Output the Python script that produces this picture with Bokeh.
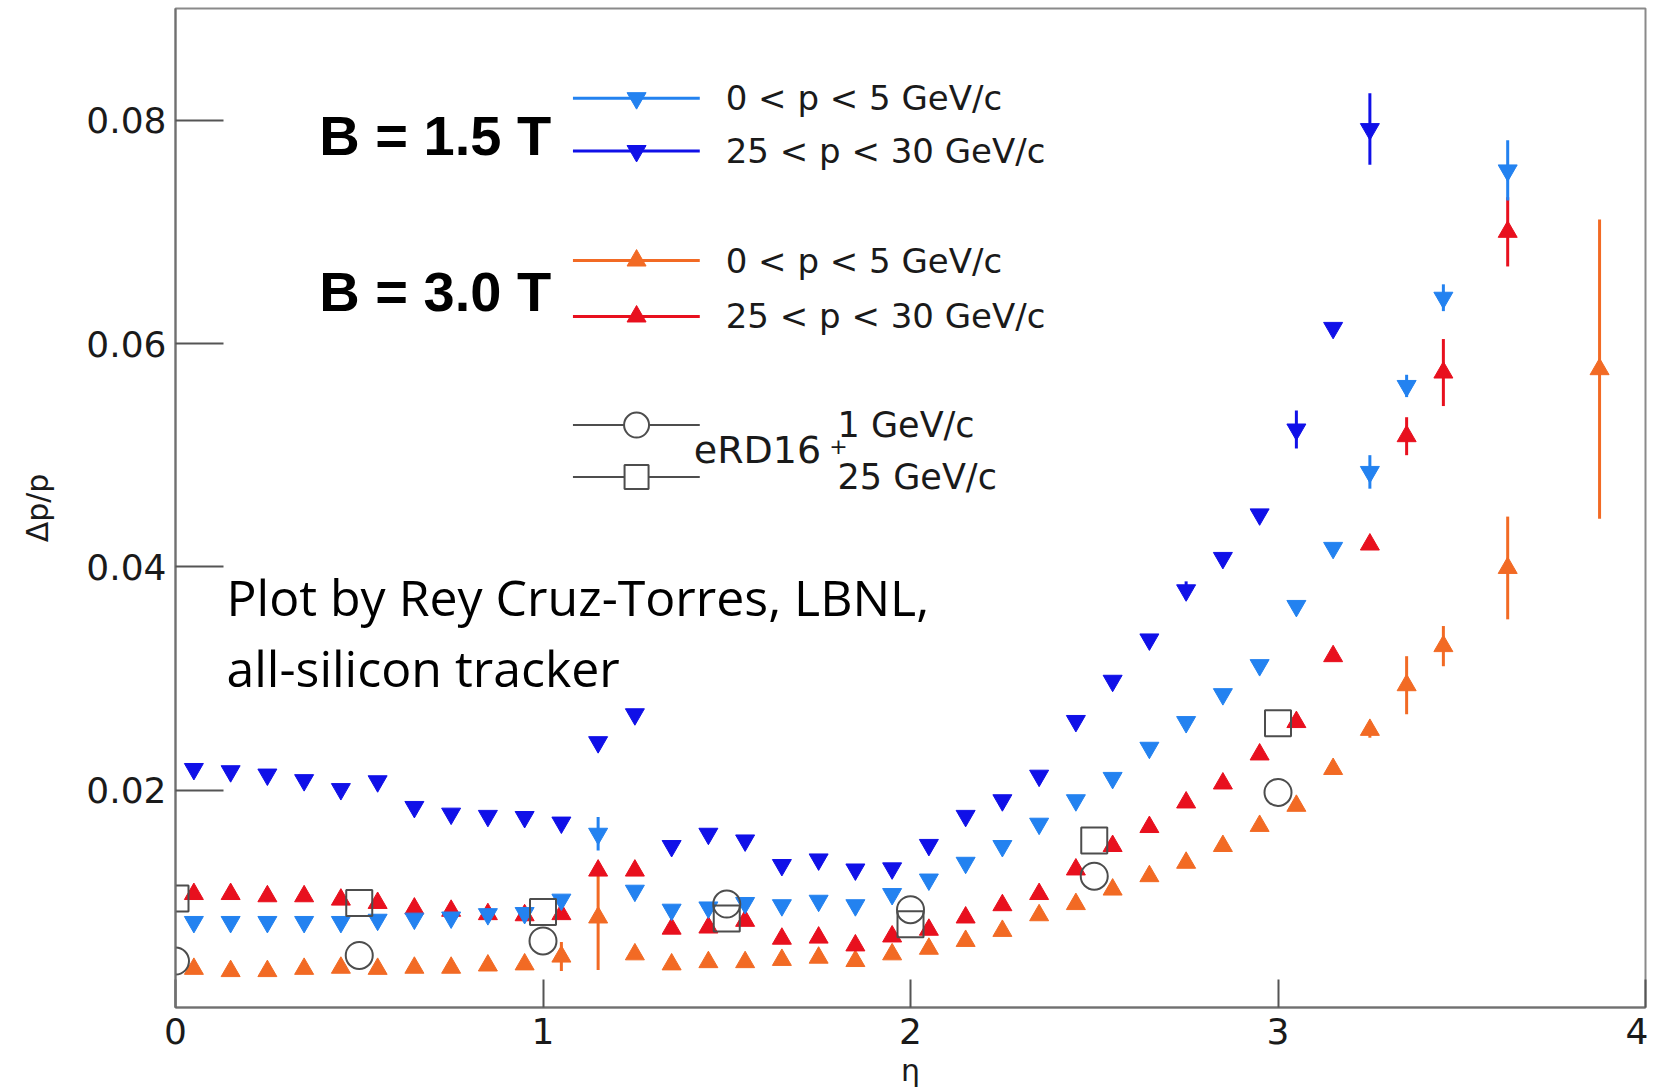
from bokeh.plotting import figure
from bokeh.models import Range1d, FixedTicker
from bokeh.core.properties import value
from bokeh.embed import file_html
from bokeh.resources import INLINE

# ---------------- data ----------------
eta = [0.05, 0.15, 0.25, 0.35, 0.45, 0.55, 0.65, 0.75, 0.85, 0.95,
       1.05, 1.15, 1.25, 1.35, 1.45, 1.55, 1.65, 1.75, 1.85, 1.95,
       2.05, 2.15, 2.25, 2.35, 2.45, 2.55, 2.65, 2.75, 2.85, 2.95,
       3.05, 3.15, 3.25, 3.35, 3.45, 3.625, 3.875]

# B = 1.5 T, 25 < p < 30 GeV/c (dark blue)
b15_hi = [0.0219, 0.0217, 0.0214, 0.0209, 0.0201, 0.0208, 0.0185, 0.0179, 0.0177, 0.0176,
          0.0171, 0.0243, 0.0268, 0.0150, 0.0161, 0.0155, 0.0133, 0.0138, 0.0129, 0.0130,
          0.0151, 0.0177, 0.0191, 0.0213, 0.0262, 0.0298, 0.0335, 0.0379, 0.0408, 0.0447,
          0.0523, 0.0614, 0.0792]
b15_hi_err = [0, 0, 0, 0, 0, 0, 0, 0, 0, 0,
              0, 0, 0, 0, 0, 0, 0, 0, 0, 0,
              0, 0, 0, 0, 0, 0, 0, 0.0008, 0, 0,
              0.0017, 0, 0.0032]

# B = 1.5 T, 0 < p < 5 GeV/c (light blue)
b15_lo = [0.0082, 0.0082, 0.0082, 0.0082, 0.0082, 0.0084, 0.0085, 0.0086, 0.0089, 0.0090,
          0.0102, 0.0161, 0.0110, 0.0093, 0.0095, 0.0099, 0.0097, 0.0101, 0.0097, 0.0107,
          0.0120, 0.0135, 0.0150, 0.0170, 0.0191, 0.0211, 0.0238, 0.0261, 0.0286, 0.0312,
          0.0365, 0.0417, 0.0485, 0.0562, 0.0641, 0.0755]
b15_lo_err = [0, 0, 0, 0, 0, 0, 0, 0, 0, 0,
              0, 0.0015, 0, 0, 0, 0, 0, 0, 0, 0,
              0, 0, 0, 0, 0, 0, 0, 0, 0, 0,
              0, 0, 0.0015, 0.0010, 0.0012, 0.0027]

# B = 3.0 T, 25 < p < 30 GeV/c (red)
b30_hi = [0.0107, 0.0107, 0.0105, 0.0105, 0.0102, 0.0099, 0.0094, 0.0092, 0.0089, 0.0088,
          0.0089, 0.0128, 0.0128, 0.0076, 0.0077, 0.0083, 0.0067, 0.0068, 0.0061, 0.0069,
          0.0075, 0.0086, 0.0097, 0.0107, 0.0129, 0.0150, 0.0167, 0.0189, 0.0206, 0.0232,
          0.0261, 0.0320, 0.0420, 0.0517, 0.0574, 0.0700]
b30_hi_err = [0, 0, 0, 0, 0, 0, 0, 0, 0, 0,
              0, 0, 0, 0, 0, 0, 0, 0, 0, 0,
              0, 0, 0, 0, 0, 0, 0, 0, 0, 0,
              0.0005, 0, 0.0004, 0.0017, 0.0030, 0.0031]

# B = 3.0 T, 0 < p < 5 GeV/c (orange)
b30_lo = [0.0040, 0.0038, 0.0038, 0.0040, 0.0041, 0.0040, 0.0041, 0.0041, 0.0043, 0.0044,
          0.0051, 0.0086, 0.0053, 0.0044, 0.0046, 0.0046, 0.0048, 0.0050, 0.0047, 0.0053,
          0.0058, 0.0065, 0.0074, 0.0088, 0.0098, 0.0111, 0.0123, 0.0135, 0.0150, 0.0168,
          0.0186, 0.0219, 0.0254, 0.0294, 0.0329, 0.0399, 0.0577]
b30_lo_err = [0, 0, 0, 0, 0, 0, 0, 0, 0, 0,
              0.0013, 0.0047, 0, 0, 0, 0, 0, 0, 0, 0,
              0, 0, 0, 0, 0, 0, 0, 0, 0, 0,
              0, 0.0004, 0.0007, 0.0026, 0.0018, 0.0046, 0.0134]

# eRD16+ reference points
erd_eta = [0.0, 0.5, 1.0, 1.5, 2.0, 2.5, 3.0]
erd_1gev = [0.0047, 0.0052, 0.0065, 0.0098, 0.0093, 0.0123, 0.0198]
erd_25gev = [0.0103, 0.0099, 0.0091, 0.0085, 0.0080, 0.0155, 0.0260]

x_ticks = [0, 1, 2, 3, 4]
x_tick_labels = ["0", "1", "2", "3", "4"]
y_ticks = [0.02, 0.04, 0.06, 0.08]
y_tick_labels = ["0.02", "0.04", "0.06", "0.08"]

x_title = "η"
y_title = "Δp/p"
legend_labels = ["0 < p < 5 GeV/c", "25 < p < 30 GeV/c",
                 "0 < p < 5 GeV/c", "25 < p < 30 GeV/c"]
field_labels = ["B = 1.5 T", "B = 3.0 T"]
note_lines = ["Plot by Rey Cruz-Torres, LBNL,", "all-silicon tracker"]

# ---------------- styles ----------------
C_DARK = "#1010e8"
C_LIGHT = "#2382f0"
C_RED = "#e8101e"
C_ORANGE = "#f26a24"
C_GRAY = "#4d4d4d"
TRI = 19
OPEN = 27
LBL_FONT = "DejaVu Sans"

p = figure(frame_width=1470, frame_height=999,
           x_range=Range1d(0, 4), y_range=Range1d(0.00054, 0.0900),
           output_backend="svg", toolbar_location=None,
           min_border_left=175, min_border_right=3, min_border_top=8, min_border_bottom=40,
           background_fill_color="white", border_fill_color="white")
p.xgrid.visible = False
p.ygrid.visible = False
p.outline_line_color = "#8a8a8a"
p.outline_line_width = 2

for ax in (p.xaxis[0], p.yaxis[0]):
    ax.axis_line_color = "#707070"
    ax.axis_line_width = 2
    ax.major_tick_out = 0
    ax.minor_tick_in = 0
    ax.minor_tick_out = 0
    ax.major_tick_line_color = "#555555"
    ax.major_tick_line_width = 2
    ax.major_label_text_font = LBL_FONT
    ax.major_label_text_font_size = "36px"
    ax.major_label_text_color = "#1a1a1a"
    ax.axis_label_text_font = LBL_FONT
    ax.axis_label_text_font_style = "normal"
    ax.axis_label_text_color = "#1a1a1a"

p.xaxis.ticker = FixedTicker(ticks=x_ticks)
p.xaxis.major_label_overrides = {t: l for t, l in zip(x_ticks, x_tick_labels)}
p.xaxis.major_tick_in = 28
p.xaxis.major_label_standoff = 10
p.xaxis.axis_label = x_title
p.xaxis.axis_label_text_font_size = "30px"
p.xaxis.axis_label_standoff = 6

p.yaxis.ticker = FixedTicker(ticks=y_ticks)
p.yaxis.major_label_overrides = {t: l for t, l in zip(y_ticks, y_tick_labels)}
p.yaxis.major_tick_in = 48
p.yaxis.major_label_standoff = 9
p.yaxis.axis_label = y_title
p.yaxis.axis_label_text_font_size = "30px"
p.yaxis.axis_label_standoff = 28


def draw_series(vals, errs, color, marker):
    xs = eta[:len(vals)]
    ex = [x for x, e in zip(xs, errs) if e > 0]
    ey0 = [v - e for v, e in zip(vals, errs) if e > 0]
    ey1 = [v + e for v, e in zip(vals, errs) if e > 0]
    if ex:
        p.segment(x0=ex, x1=ex, y0=ey0, y1=ey1, line_color=color, line_width=3)
    p.scatter(x=xs, y=vals, marker=marker, size=TRI, fill_color=color,
              line_color=color, line_width=1)


draw_series(b30_lo, b30_lo_err, C_ORANGE, "triangle")
draw_series(b30_hi, b30_hi_err, C_RED, "triangle")
draw_series(b15_lo, b15_lo_err, C_LIGHT, "inverted_triangle")
draw_series(b15_hi, b15_hi_err, C_DARK, "inverted_triangle")

p.scatter(x=erd_eta, y=erd_1gev, marker="circle", size=OPEN, fill_color=None,
          line_color=C_GRAY, line_width=2)
p.scatter(x=erd_eta, y=erd_25gev, marker="square", size=OPEN - 1, fill_color=None,
          line_color=C_GRAY, line_width=2)

# ---------------- legend (drawn by hand, in data units) ----------------
LX0, LX1, LXM, LXT = 1.0815, 1.4266, 1.2546, 1.497
rows = [0.08197, 0.07724, 0.06743, 0.06242, 0.05270, 0.04805]
leg_colors = [C_LIGHT, C_DARK, C_ORANGE, C_RED]
leg_markers = ["inverted_triangle", "inverted_triangle", "triangle", "triangle"]
for y, c, m, lab in zip(rows[:4], leg_colors, leg_markers, legend_labels):
    p.segment(x0=[LX0], x1=[LX1], y0=[y], y1=[y], line_color=c, line_width=3)
    p.scatter(x=[LXM], y=[y], marker=m, size=TRI, fill_color=c, line_color=c)
    p.text(x=[LXT], y=[y], text=[lab], text_font=value(LBL_FONT), text_font_size="34px",
           text_baseline="middle", text_align="left", text_color="#1a1a1a")

for y, m, s in zip(rows[4:], ["circle", "square"], [OPEN - 2, OPEN - 3]):
    p.segment(x0=[LX0], x1=[LX1], y0=[y], y1=[y], line_color=C_GRAY, line_width=2)
    p.scatter(x=[LXM], y=[y], marker=m, size=s, fill_color="white", line_color=C_GRAY,
              line_width=2)

p.text(x=[1.4103], y=[0.05042], text=["eRD16"], text_font=value(LBL_FONT),
       text_font_size="38px", text_baseline="middle", text_color="#1a1a1a")
p.text(x=[1.779], y=[0.05085], text=["+"], text_font=value(LBL_FONT),
       text_font_size="22px", text_baseline="middle", text_color="#1a1a1a")
p.text(x=[1.8016, 1.8016], y=[rows[4], rows[5]], text=["1 GeV/c", "25 GeV/c"],
       text_font=value(LBL_FONT), text_font_size="35px", text_baseline="middle",
       text_color="#1a1a1a")

p.text(x=[0.3913, 0.3913], y=[0.07867, 0.0647], text=field_labels,
       text_font=value("Liberation Sans"), text_font_style="bold",
       text_font_size="56px", text_baseline="middle", text_color="black")

p.text(x=[0.1386, 0.1386], y=[0.0373, 0.0309], text=note_lines,
       text_font=value("Open Sans"), text_font_size="50px",
       text_baseline="alphabetic", text_color="black")

open("out.html", "w").write(file_html(p, INLINE))
